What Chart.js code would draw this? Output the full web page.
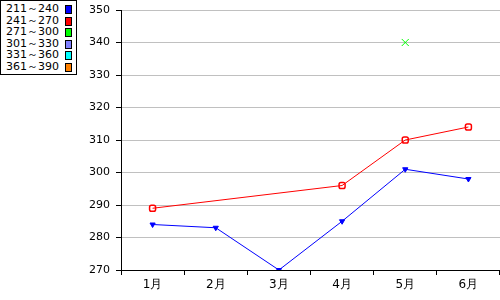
<!DOCTYPE html>
<html>
<head>
<meta charset="utf-8">
<script src="https://cdn.jsdelivr.net/npm/chart.js@4"></script>
<style>
  body { margin: 0; background: #fff; }
  #wrap { position: relative; width: 500px; height: 300px; }
  #legend {
    position: absolute; left: 0; top: 0; width: 77px; height: 75px;
    border: 1px solid #000; background: #fff; box-sizing: border-box;
    font-family: "DejaVu Sans", sans-serif; font-size: 11px; color: #000;
    padding: 2px 0 0 5px;
  }
  #legend div { height: 11.6px; line-height: 11.6px; position: relative; white-space: nowrap; }
  #legend span.sw {
    position: absolute; left: 59px; top: 2px; width: 5px; height: 7px; border: 1px solid #000;
  }
</style>
</head>
<body>
<div id="wrap">
  <canvas id="chart" width="500" height="300"></canvas>
  <div id="legend"></div>
</div>
<script>
const months = ['1月', '2月', '3月', '4月', '5月', '6月'];
const seriesNames = ['211～240', '241～270', '271～300', '301～330', '331～360', '361～390'];
const seriesColors = ['#0000ff', '#ff0000', '#00ff00', '#8080ff', '#00ffff', '#ff8000'];

const blueValues = [284, 283, 270, 285, 301, 298];
const redValues = [289, null, null, 296, 310, 314];
const greenValues = [null, null, null, null, 340, null];

const yMin = 270;
const yMax = 350;
const yStep = 10;

// legend
const legendEl = document.getElementById('legend');
seriesNames.forEach((name, i) => {
    const row = document.createElement('div');
    row.textContent = name;
    const sw = document.createElement('span');
    sw.className = 'sw';
    sw.style.background = seriesColors[i];
    row.appendChild(sw);
    legendEl.appendChild(row);
});

const ctx = document.getElementById('chart').getContext('2d');
new Chart(ctx, {
    type: 'line',
    data: {
        labels: months,
        datasets: [
            {
                label: seriesNames[0],
                data: blueValues,
                borderColor: seriesColors[0],
                backgroundColor: seriesColors[0],
                borderWidth: 1,
                pointStyle: 'triangle',
                rotation: 180,
                pointRadius: 3,
                pointBorderWidth: 1
            },
            {
                label: seriesNames[1],
                data: redValues,
                borderColor: seriesColors[1],
                backgroundColor: 'rgba(0,0,0,0)',
                borderWidth: 1,
                spanGaps: true,
                pointStyle: 'rectRounded',
                pointRadius: 3.5,
                pointBorderWidth: 1.5
            },
            {
                label: seriesNames[2],
                data: greenValues,
                borderColor: seriesColors[2],
                backgroundColor: seriesColors[2],
                borderWidth: 1,
                showLine: false,
                pointStyle: 'crossRot',
                pointRadius: 5,
                pointBorderWidth: 1
            }
        ]
    },
    options: {
        responsive: false,
        animation: false,
        layout: { autoPadding: false, padding: { top: 10, right: 0, left: 0, bottom: 0 } },
        plugins: {
            legend: { display: false },
            tooltip: { enabled: false }
        },
        scales: {
            x: {
                offset: true,
                grid: {
                    offset: true,
                    drawOnChartArea: false,
                    color: '#000',
                    tickLength: 5
                },
                border: { color: '#000', width: 1 },
                ticks: {
                    color: '#000',
                    font: { family: 'DejaVu Sans', size: 12 },
                    padding: 3
                },
                afterFit: scale => { scale.height = 30; }
            },
            y: {
                min: yMin,
                max: yMax,
                grid: {
                    color: '#c0c0c0',
                    tickColor: '#000',
                    tickLength: 5
                },
                border: { color: '#000', width: 1 },
                ticks: {
                    stepSize: yStep,
                    color: '#000',
                    font: { family: 'DejaVu Sans', size: 11 },
                    padding: 6
                },
                afterFit: scale => {
                    scale.width = 121;
                    scale.paddingTop = 0;
                    scale.paddingBottom = 0;
                }
            }
        }
    }
});
</script>
</body>
</html>
